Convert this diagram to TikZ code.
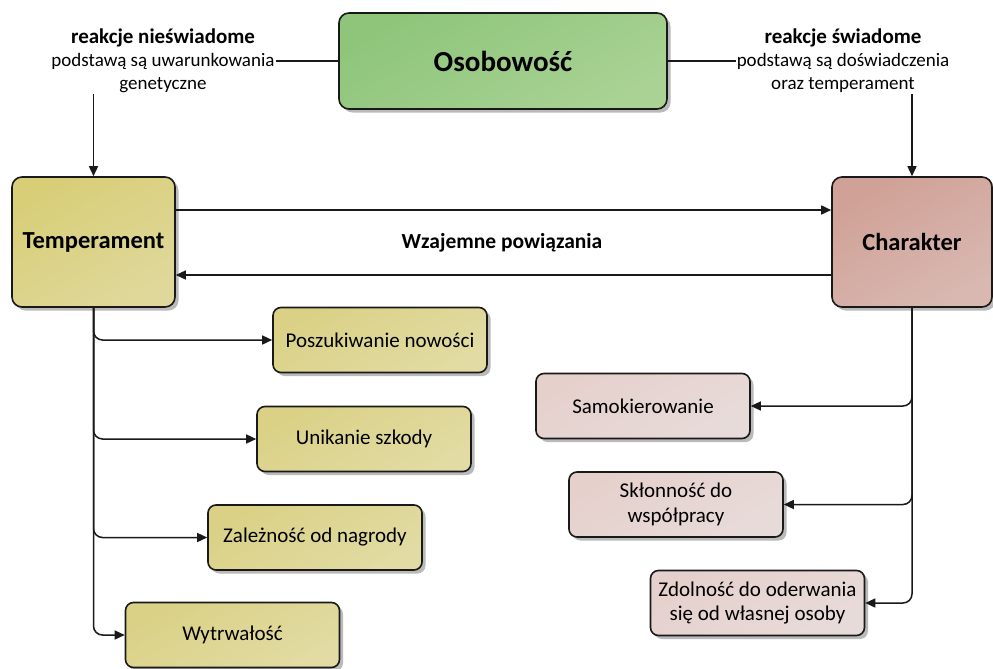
\documentclass[tikz,border=0pt]{standalone}
\usepackage{fontspec}
\setmainfont{Carlito}
\usetikzlibrary{shadows,arrows.meta}
\definecolor{grA}{HTML}{8EC57B}
\definecolor{grB}{HTML}{A9D294}
\definecolor{yeA}{HTML}{D8CE78}
\definecolor{yeB}{HTML}{DFD89A}
\definecolor{ylA}{HTML}{DAD186}
\definecolor{ylB}{HTML}{E2DBA3}
\definecolor{rsA}{HTML}{D0A196}
\definecolor{rsB}{HTML}{D8B8B1}
\definecolor{rlA}{HTML}{E6D0CC}
\definecolor{rlB}{HTML}{E7DBD9}
\begin{document}
\begin{tikzpicture}[x=1pt,y=-1pt,
  box/.style={draw=black!90, line width=1.6pt, align=center, inner sep=0pt,
    drop shadow={shadow xshift=3.5pt, shadow yshift=-3.5pt, fill=black!30, opacity=0.9}},
  bigbox/.style={box, rounded corners=10pt},
  smallbox/.style={box, rounded corners=8pt, minimum width=214pt, minimum height=65pt,
    font=\fontsize{21}{24.5}\selectfont},
  yelbox/.style={smallbox, top color=ylA, bottom color=ylB, shading angle=30},
  rosebox/.style={smallbox, top color=rlA, bottom color=rlB, shading angle=30},
  conn/.style={draw=black!90, line width=1.5pt},
  arr/.style={conn, -{Triangle[length=10pt,width=9pt]}},
  branch/.style={arr, rounded corners=9pt},
  lbl/.style={align=center, inner sep=1pt, font=\fontsize{19}{23}\selectfont}
]
\useasboundingbox (0,0) rectangle (993,669);

% main boxes
\node[bigbox, minimum width=328pt, minimum height=96pt, top color=grA, bottom color=grB,
  shading angle=30, font=\bfseries\fontsize{29}{32}\selectfont] (osob) at (503,61) {Osobowość};
\node[bigbox, minimum width=163pt, minimum height=130pt, top color=yeA, bottom color=yeB,
  shading angle=30, font=\bfseries\fontsize{24.5}{28}\selectfont] (temp) at (93.5,242) {Temperament};
\node[bigbox, minimum width=160pt, minimum height=130pt, top color=rsA, bottom color=rsB,
  shading angle=30, font=\bfseries\fontsize{24.5}{28}\selectfont] (char) at (912,242) {Charakter};

% labels beside the top box
\node[lbl, anchor=north] (lblL) at (163,28)
  {\textbf{\fontsize{21}{23}\selectfont reakcje nieświadome}\\podstawą są uwarunkowania\\genetyczne};
\node[lbl, anchor=north] (lblR) at (843,28)
  {\textbf{\fontsize{21}{23}\selectfont reakcje świadome}\\podstawą są doświadczenia\\oraz temperament};

\draw[conn] (osob.west) -- (osob.west -| lblL.east);
\draw[conn] (osob.east) -- (osob.east -| lblR.west);
\draw[arr] (lblL.south -| temp.north) -- (temp.north);
\draw[arr] (lblR.south -| char.north) -- (char.north);

% mutual links
\draw[arr] ([yshift=32pt]temp.east) -- ([yshift=32pt]char.west);
\draw[arr] ([yshift=-33pt]char.west) -- ([yshift=-33pt]temp.east);
\node[font=\bfseries\fontsize{21.5}{24}\selectfont] (mutual) at (502,243) {Wzajemne powiązania};

% temperament dimensions
\node[yelbox] (posz) at (380,340) {Poszukiwanie nowości};
\node[yelbox] (unik) at (364,439) {Unikanie szkody};
\node[yelbox] (zal) at (315,537.5) {Zależność od nagrody};
\node[yelbox] (wytr) at (232.5,635) {Wytrwałość};

\draw[branch] (temp.south) |- (posz.west);
\draw[branch] (temp.south) |- (unik.west);
\draw[branch] (temp.south) |- (zal.west);
\draw[branch] (temp.south) |- (wytr.west);

% character dimensions
\node[rosebox] (samo) at (643,406) {Samokierowanie};
\node[rosebox] (sklo) at (676,504.5) {Skłonność do\\współpracy};
\node[rosebox] (zdol) at (757.5,603) {Zdolność do oderwania\\się od własnej osoby};

\draw[branch] (char.south) |- (samo.east);
\draw[branch] (char.south) |- (sklo.east);
\draw[branch] (char.south) |- (zdol.east);
\end{tikzpicture}
\end{document}
